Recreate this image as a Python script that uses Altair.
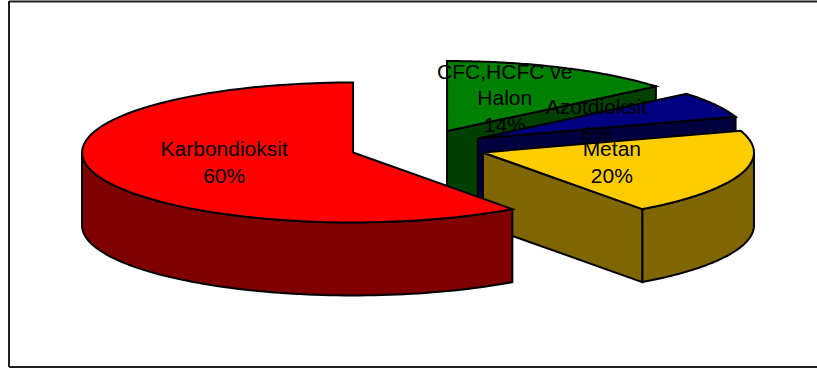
import altair as alt
import pandas as pd

# ---------------- data ----------------
categories = ["CFC,HCFC ve Halon", "Azotdioksit", "Metan", "Karbondioksit"]
values = [14, 6, 20, 60]
label_names = ["CFC,HCFC ve|Halon", "Azotdioksit", "Metan", "Karbondioksit"]

# ---------------- styles / layout ----------------
TOP_COLORS = {"CFC,HCFC ve Halon": "#008000", "Azotdioksit": "#000080",
              "Metan": "#FFCC00", "Karbondioksit": "#FF0000"}
SIDE_COLORS = {"CFC,HCFC ve Halon": "#004000", "Azotdioksit": "#000040",
               "Metan": "#806600", "Karbondioksit": "#800000"}
DRAW_ORDER = ["CFC,HCFC ve Halon", "Azotdioksit", "Metan", "Karbondioksit"]

W, H = 817, 369
CX, CY = 418, 147      # pie centre (pixels)
RX, RY = 271, 70       # ellipse radii
DEPTH = 73             # 3-D thickness
EXPLODE = 0.252        # explosion as fraction of radius
N = 80                 # points per arc
LINE_H = 26.5          # label line height

df = pd.DataFrame({"category": categories, "value": values,
                   "label": label_names, "idx": list(range(len(categories)))})

X = alt.X("x:Q", scale=alt.Scale(domain=[0, W], nice=False, zero=False), axis=None)
Y = alt.Y("y:Q", scale=alt.Scale(domain=[0, H], nice=False, zero=False, reverse=True), axis=None)


def base(cat):
    return (alt.Chart(df)
            .transform_joinaggregate(total="sum(value)")
            .transform_window(cum="sum(value)", sort=[alt.SortField("idx")], frame=[None, 0])
            .transform_filter(alt.datum.category == cat)
            .transform_calculate(a1="2*PI*(datum.cum-datum.value)/datum.total")
            .transform_calculate(a2="2*PI*datum.cum/datum.total")
            .transform_calculate(mid="(datum.a1+datum.a2)/2")
            .transform_calculate(cx=f"{CX}+{EXPLODE*RX}*sin(datum.mid)")
            .transform_calculate(cy=f"{CY}-{EXPLODE*RY}*cos(datum.mid)"))


def poly(chart, color):
    return chart.mark_line(fill=color, stroke="black", strokeWidth=2,
                           strokeJoin="miter", interpolate="linear").encode(
        x=X, y=Y, order=alt.Order("k:Q"))


def top_face(cat):
    c = (base(cat)
         .transform_calculate(k=f"sequence(0,{N+3})").transform_flatten(["k"])
         .transform_calculate(ang=f"datum.a1+(datum.a2-datum.a1)*clamp((datum.k-1)/{N},0,1)")
         .transform_calculate(ctr=f"datum.k==0 || datum.k=={N+2}")
         .transform_calculate(x=f"datum.ctr ? datum.cx : datum.cx+{RX}*sin(datum.ang)")
         .transform_calculate(y=f"datum.ctr ? datum.cy : datum.cy-{RY}*cos(datum.ang)"))
    return poly(c, TOP_COLORS[cat])


def outer_side(cat):
    c = (base(cat)
         .transform_calculate(s1="max(datum.a1, PI/2)")
         .transform_calculate(s2="min(datum.a2, 3*PI/2)")
         .transform_filter("datum.s2 > datum.s1")
         .transform_calculate(k=f"sequence(0,{2*N+3})").transform_flatten(["k"])
         .transform_calculate(ang=f"datum.k<={N} ? datum.s1+(datum.s2-datum.s1)*datum.k/{N} : "
                                  f"(datum.k<={2*N+1} ? datum.s2-(datum.s2-datum.s1)*(datum.k-{N+1})/{N} : datum.s1)")
         .transform_calculate(dy=f"(datum.k>{N} && datum.k<={2*N+1}) ? {DEPTH} : 0")
         .transform_calculate(x=f"datum.cx+{RX}*sin(datum.ang)")
         .transform_calculate(y=f"datum.cy-{RY}*cos(datum.ang)+datum.dy"))
    return poly(c, SIDE_COLORS[cat])


def cut_face(cat, which):
    a = "datum.a2" if which == "end" else "datum.a1"
    cond = "sin(datum.a2) > 1e-6" if which == "end" else "sin(datum.a1) < -1e-6"
    c = (base(cat)
         .transform_filter(cond)
         .transform_calculate(k="sequence(0,5)").transform_flatten(["k"])
         .transform_calculate(rim="datum.k==1 || datum.k==2")
         .transform_calculate(low="datum.k==2 || datum.k==3")
         .transform_calculate(x=f"datum.rim ? datum.cx+{RX}*sin({a}) : datum.cx")
         .transform_calculate(y=f"(datum.rim ? datum.cy-{RY}*cos({a}) : datum.cy) + (datum.low ? {DEPTH} : 0)"))
    return poly(c, SIDE_COLORS[cat])


def label(cat):
    c = (base(cat)
         .transform_calculate(txt="datum.label + '|' + format(datum.value/datum.total, '.0%')")
         .transform_calculate(nl="length(split(datum.txt, '|'))")
         .transform_calculate(x=f"datum.cx+{0.5*RX}*sin(datum.mid)")
         .transform_calculate(y=f"datum.cy-{0.5*RY}*cos(datum.mid)-(datum.nl-1)*{LINE_H/2}"))
    return c.mark_text(lineBreak="|", font="Liberation Sans", fontSize=21, lineHeight=LINE_H,
                       align="center", baseline="middle", color="black").encode(
        x=X, y=Y, text="txt:N")


layers = []
for cat in DRAW_ORDER:
    layers += [outer_side(cat), cut_face(cat, "start"), cut_face(cat, "end"),
               top_face(cat), label(cat)]

frame_src = alt.Chart(pd.DataFrame({"f": [0]}))
frame_color = "#1f1f1f"
layers += [
    frame_src.mark_rule(color=frame_color, strokeWidth=2).encode(
        x=alt.value(9), y=alt.value(1), y2=alt.value(367)),
    frame_src.mark_rule(color=frame_color, strokeWidth=2).encode(
        x=alt.value(9), x2=alt.value(W), y=alt.value(1.5)),
    frame_src.mark_rule(color=frame_color, strokeWidth=2).encode(
        x=alt.value(9), x2=alt.value(W), y=alt.value(367)),
]

chart = (alt.layer(*layers)
         .properties(width=W, height=H, padding=0, autosize="none", background="white")
         .configure_view(strokeWidth=0))

chart.save("out.html", embed_options={"renderer": "svg", "actions": False})
